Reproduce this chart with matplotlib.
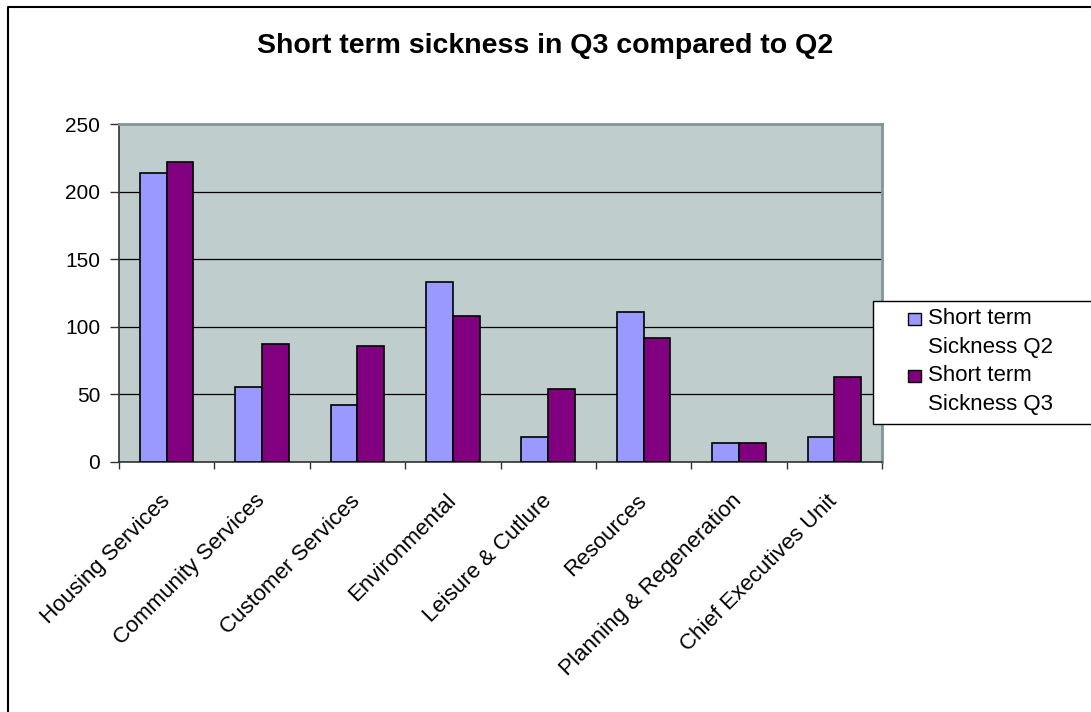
import matplotlib
matplotlib.use("Agg")
import matplotlib.pyplot as plt
import numpy as np
from matplotlib.patches import Rectangle
from matplotlib.lines import Line2D

plt.rcParams['font.family'] = ['Liberation Sans', 'DejaVu Sans']

departments = ['Housing Services', 'Community Services', 'Customer Services',
               'Environmental', 'Leisure & Cutlure', 'Resources',
               'Planning & Regeneration', 'Chief Executives Unit']
q2 = [214, 55, 42, 133, 18, 111, 14, 18]
q3 = [222, 87, 86, 108, 54, 92, 14, 63]
series_names = ['Short term\nSickness Q2', 'Short term\nSickness Q3']
colors = ['#9999FF', '#800080']

W, H = 1091, 712
fig = plt.figure(figsize=(W / 100, H / 100), dpi=100)


def fx(px):
    return px / W


def fy(py):
    return 1 - py / H


# plot area in pixel coordinates
left, right, top, bottom = 119, 882, 124.3, 461.7
ax = fig.add_axes([fx(left), fy(bottom), fx(right) - fx(left), fy(top) - fy(bottom)])
ax.set_facecolor('#BFCDCD')

x = np.arange(len(departments))
w = 0.28
ax.bar(x - w / 2, q2, w, color=colors[0], edgecolor='black', linewidth=1.2, zorder=3)
ax.bar(x + w / 2, q3, w, color=colors[1], edgecolor='black', linewidth=1.2, zorder=3)

ax.set_xlim(-0.5, len(departments) - 0.5)
ax.set_ylim(0, 250)
ax.set_yticks([0, 50, 100, 150, 200, 250])
ax.yaxis.grid(True, color='black', linewidth=0.9, zorder=1)
ax.set_axisbelow(True)

# category boundaries get the tick marks, names sit under the centres
ax.set_xticks(np.arange(-0.5, len(departments)), labels=[])
ax.set_xticks(x, minor=True)
ax.set_xticklabels(departments, minor=True, rotation=45, ha='right', va='center',
                   rotation_mode='anchor', fontsize=16)
ax.tick_params(axis='x', which='minor', length=0, pad=26)
ax.tick_params(axis='x', which='major', length=5, width=1, color='#333333', direction='out')
ax.tick_params(axis='y', length=6.5, width=1, color='#333333', direction='out', pad=7,
               labelsize=15)

for side in ['left', 'bottom']:
    ax.spines[side].set_color('#333333')
    ax.spines[side].set_linewidth(1.2)
for side in ['top', 'right']:
    ax.spines[side].set_color('#7F9797')
    ax.spines[side].set_linewidth(2)

fig.text(0.5, fy(53), 'Short term sickness in Q3 compared to Q2', ha='center',
         va='baseline', fontsize=20.5, fontweight='bold')

# legend box on the right
fig.patches.append(Rectangle((fx(873), fy(424)), fx(1100) - fx(873), fy(301) - fy(424),
                             transform=fig.transFigure, facecolor='white',
                             edgecolor='black', linewidth=1))
for i, (name, c) in enumerate(zip(series_names, colors)):
    y0 = 312.7 + 57 * i
    fig.patches.append(Rectangle((fx(908), fy(y0 + 12)), fx(13), 12 / H,
                                 transform=fig.transFigure, facecolor=c,
                                 edgecolor='black', linewidth=1))
    for j, line in enumerate(name.split('\n')):
        fig.text(fx(928), fy(324.3 + 57 * i + 28.4 * j), line, fontsize=16,
                 va='baseline', ha='left')

# outer chart border
fig.lines.append(Line2D([fx(7.5), fx(7.5), 1.01], [-0.01, fy(6.5), fy(6.5)],
                        transform=fig.transFigure, color='black', linewidth=1.5))

fig.savefig('out.png', dpi=100, facecolor='white')
